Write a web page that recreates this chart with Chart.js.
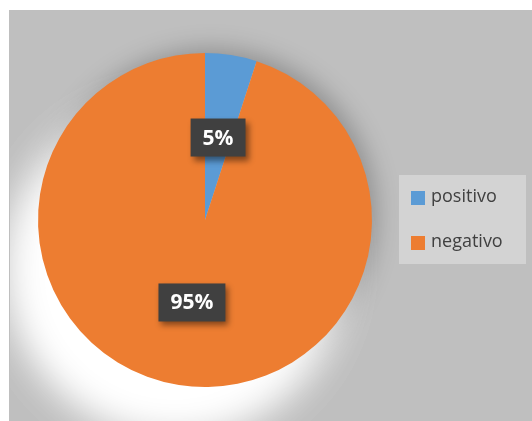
<!DOCTYPE html>
<html>
<head>
<meta charset="utf-8">
<script src="https://cdn.jsdelivr.net/npm/chart.js@4/dist/chart.umd.min.js"></script>
<style>
  html, body { margin: 0; padding: 0; background: #fff; }
  #wrap { width: 532px; height: 421px; position: relative; }
</style>
</head>
<body>
<div id="wrap"><canvas id="grafico"></canvas></div>
<script>
const categorias = ['positivo', 'negativo'];
const valores = [5, 95];
const cores = ['#5b9bd5', '#ed7d31'];

// fundo cinza + brilho branco atras da pizza
const fundo = {
  id: 'fundo',
  beforeDraw(chart) {
    const ctx = chart.ctx;
    const w = chart.width, h = chart.height;
    ctx.save();
    ctx.fillStyle = '#ffffff';
    ctx.fillRect(0, 0, w, h);
    ctx.fillStyle = '#bfbfbf';
    ctx.fillRect(9, 10, w - 9, h - 10);
    ctx.beginPath();
    ctx.rect(10, 11, w - 10, h - 11);
    ctx.clip();
    const arc = chart.getDatasetMeta(0).data[0];
    if (arc) {
      // sombra escura para cima/direita
      ctx.shadowColor = 'rgba(0,0,0,0.25)';
      ctx.shadowBlur = 25;
      ctx.shadowOffsetX = 6;
      ctx.shadowOffsetY = -6;
      ctx.fillStyle = '#bfbfbf';
      ctx.beginPath();
      ctx.arc(arc.x, arc.y, arc.outerRadius - 2, 0, Math.PI * 2);
      ctx.fill();
      // brilho branco para baixo/esquerda
      ctx.shadowColor = 'rgba(255,255,255,1)';
      ctx.shadowBlur = 45;
      ctx.shadowOffsetX = -30;
      ctx.shadowOffsetY = 48;
      for (let i = 0; i < 2; i++) {
        ctx.beginPath();
        ctx.arc(arc.x, arc.y, arc.outerRadius - 8, 0, Math.PI * 2);
        ctx.fill();
      }
    }
    ctx.restore();
  }
};

// rotulos de porcentagem em caixas escuras
const rotulos = {
  id: 'rotulos',
  afterDatasetsDraw(chart) {
    const ctx = chart.ctx;
    const meta = chart.getDatasetMeta(0);
    ctx.save();
    ctx.font = 'bold 21px "Open Sans", sans-serif';
    ctx.textAlign = 'center';
    ctx.textBaseline = 'middle';
    meta.data.forEach((arc, i) => {
      const p = arc.getCenterPoint();
      const txt = valores[i] + '%';
      const tw = ctx.measureText(txt).width;
      const bw = tw + 24, bh = 38;
      ctx.save();
      ctx.shadowColor = 'rgba(0,0,0,0.45)';
      ctx.shadowBlur = 6;
      ctx.shadowOffsetX = 3;
      ctx.shadowOffsetY = 4;
      ctx.fillStyle = '#404040';
      ctx.fillRect(p.x - bw / 2, p.y - bh / 2, bw, bh);
      ctx.restore();
      ctx.fillStyle = '#ffffff';
      ctx.fillText(txt, p.x, p.y + 1);
    });
    ctx.restore();
  }
};

// legenda a direita
const legenda = {
  id: 'legenda',
  afterDraw(chart) {
    const ctx = chart.ctx;
    ctx.save();
    ctx.fillStyle = '#d3d3d3';
    ctx.fillRect(399, 175, 127, 89);
    ctx.font = '18px "Open Sans", sans-serif';
    ctx.textBaseline = 'middle';
    ctx.textAlign = 'left';
    categorias.forEach((nome, i) => {
      const y = 197 + i * 45;
      ctx.fillStyle = cores[i];
      ctx.fillRect(411, y - 6, 14, 14);
      ctx.fillStyle = '#404040';
      ctx.fillText(nome, 431, y);
    });
    ctx.restore();
  }
};

const ctxGrafico = document.getElementById('grafico').getContext('2d');
const grafico = new Chart(ctxGrafico, {
  type: 'pie',
  data: {
    labels: categorias,
    datasets: [{
      data: valores,
      backgroundColor: cores,
      borderWidth: 0
    }]
  },
  options: {
    responsive: true,
    maintainAspectRatio: false,
    animation: false,
    layout: { padding: { left: 38, right: 160, top: 53, bottom: 34 } },
    plugins: {
      legend: { display: false },
      tooltip: { enabled: false }
    }
  },
  plugins: [fundo, rotulos, legenda]
});
</script>
</body>
</html>
